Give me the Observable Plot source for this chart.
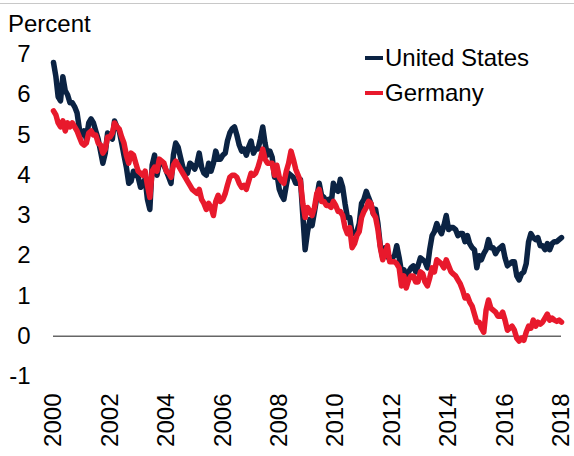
<!DOCTYPE html>
<html><head><meta charset="utf-8">
<script src="https://cdn.jsdelivr.net/npm/d3@7"></script>
<script src="https://cdn.jsdelivr.net/npm/@observablehq/plot@0.6"></script>
<style>
body{margin:0;background:#fff;font-family:Arial,"Liberation Sans",sans-serif;color:#000;}
#wrap{position:relative;width:574px;height:456px;overflow:hidden;}
#chart{position:absolute;left:0;top:0;}
#topline{position:absolute;left:0;top:3px;width:574px;height:1px;background:#c8c8c8;}
#unit{position:absolute;left:8px;top:10px;font-size:24px;line-height:28px;}
#legend{position:absolute;left:365px;top:40px;font-size:24px;}
.item{display:flex;align-items:center;height:35px;white-space:nowrap;}
.sw{width:18px;height:4px;margin-right:2px;}
</style></head>
<body>
<div id="wrap"><div id="chart"></div><div id="topline"></div><div id="unit">Percent</div><div id="legend"></div></div>
<script>
// Series names and colours
const seriesNames = ["United States", "Germany"];
const seriesColors = ["#0b2343", "#e8192c"];

// Monthly 10-year yields, Jan 2000 ... Dec 2017, plus Jan 2018 end point (percent)
const usYields = [
  6.8, 6.45, 5.95, 5.85, 6.45, 6.1, 6.0, 5.8, 5.8, 5.7, 5.55, 5.15,   // 2000
  5.0, 5.1, 4.9, 5.3, 5.4, 5.3, 5.1, 4.9, 4.6, 4.3, 4.55, 5.05,       // 2001
  5.0, 4.9, 5.35, 5.2, 5.1, 4.8, 4.5, 4.2, 3.8, 3.85, 4.1, 4.0,       // 2002
  3.95, 3.7, 3.8, 3.9, 3.4, 3.15, 4.25, 4.5, 4.0, 4.3, 4.3, 4.25,     // 2003
  4.1, 3.95, 3.8, 4.5, 4.8, 4.7, 4.45, 4.2, 4.1, 4.05, 4.3, 4.25,     // 2004
  4.15, 4.3, 4.55, 4.2, 4.05, 4.0, 4.3, 4.1, 4.3, 4.6, 4.4, 4.4,      // 2005
  4.5, 4.55, 4.85, 5.05, 5.15, 5.2, 5.0, 4.75, 4.6, 4.65, 4.5, 4.7,   // 2006
  4.85, 4.55, 4.65, 4.65, 4.9, 5.2, 4.8, 4.5, 4.6, 4.45, 3.95, 4.05,  // 2007
  3.65, 3.5, 3.4, 3.75, 4.05, 4.0, 3.95, 3.8, 3.8, 3.9, 3.0, 2.15,    // 2008
  2.6, 2.9, 2.75, 3.1, 3.45, 3.8, 3.5, 3.45, 3.3, 3.4, 3.25, 3.8,     // 2009
  3.65, 3.6, 3.9, 3.7, 3.3, 2.95, 2.95, 2.55, 2.55, 2.6, 2.8, 3.3,    // 2010
  3.4, 3.6, 3.45, 3.3, 3.05, 3.15, 2.8, 2.25, 1.95, 2.2, 2.0, 1.9,    // 2011
  1.95, 2.0, 2.25, 1.95, 1.6, 1.65, 1.5, 1.6, 1.7, 1.75, 1.6, 1.75,   // 2012
  1.95, 1.9, 1.85, 1.7, 2.15, 2.5, 2.6, 2.8, 2.65, 2.55, 2.75, 3.0,   // 2013
  2.65, 2.7, 2.7, 2.65, 2.5, 2.55, 2.55, 2.35, 2.5, 2.3, 2.2, 2.15,   // 2014
  1.7, 2.0, 1.9, 2.05, 2.15, 2.4, 2.2, 2.2, 2.05, 2.15, 2.2, 2.25,    // 2015
  1.95, 1.75, 1.8, 1.85, 1.85, 1.5, 1.4, 1.55, 1.6, 1.8, 2.35, 2.55,  // 2016
  2.45, 2.4, 2.45, 2.25, 2.25, 2.15, 2.3, 2.15, 2.3, 2.35, 2.35, 2.4, // 2017
  2.45                                                                // 2018
];
const deYields = [
  5.6, 5.5, 5.3, 5.2, 5.35, 5.1, 5.3, 5.2, 5.3, 5.2, 5.1, 4.95,       // 2000
  4.8, 4.75, 4.8, 5.05, 5.1, 5.0, 5.0, 4.8, 4.75, 4.55, 4.65, 4.95,   // 2001
  4.95, 5.05, 5.3, 5.2, 5.15, 4.95, 4.8, 4.5, 4.3, 4.55, 4.5, 4.3,    // 2002
  4.1, 4.05, 4.0, 4.1, 3.75, 3.45, 4.1, 4.2, 4.1, 4.4, 4.35, 4.3,     // 2003
  4.1, 4.05, 3.95, 4.25, 4.35, 4.25, 4.15, 4.05, 3.95, 3.85, 3.75, 3.65, // 2004
  3.6, 3.55, 3.65, 3.4, 3.3, 3.15, 3.3, 3.2, 3.0, 3.35, 3.5, 3.35,    // 2005
  3.4, 3.55, 3.75, 3.95, 4.0, 4.0, 3.95, 3.8, 3.7, 3.75, 3.65, 3.85,  // 2006
  4.05, 4.0, 4.05, 4.2, 4.4, 4.65, 4.4, 4.3, 4.3, 4.3, 4.0, 4.25,     // 2007
  3.95, 3.85, 3.8, 4.1, 4.3, 4.6, 4.4, 4.15, 4.0, 3.85, 3.3, 2.95,    // 2008
  3.2, 3.1, 3.0, 3.2, 3.55, 3.65, 3.35, 3.35, 3.25, 3.25, 3.2, 3.35,  // 2009
  3.25, 3.1, 3.1, 3.0, 2.7, 2.55, 2.7, 2.2, 2.3, 2.5, 2.6, 2.95,      // 2010
  3.1, 3.2, 3.35, 3.3, 3.05, 2.95, 2.65, 2.2, 1.9, 2.05, 2.25, 1.85,  // 2011
  1.85, 1.85, 1.8, 1.7, 1.25, 1.5, 1.2, 1.4, 1.5, 1.5, 1.35, 1.35,    // 2012
  1.6, 1.55, 1.35, 1.25, 1.45, 1.7, 1.6, 1.9, 1.85, 1.8, 1.7, 1.9,    // 2013
  1.75, 1.6, 1.55, 1.5, 1.4, 1.3, 1.15, 0.95, 1.0, 0.85, 0.75, 0.55,  // 2014
  0.35, 0.35, 0.2, 0.1, 0.65, 0.9, 0.7, 0.65, 0.6, 0.5, 0.5, 0.6,     // 2015
  0.4, 0.15, 0.2, 0.25, 0.15, -0.05, -0.12, -0.05, -0.1, 0.1, 0.25, 0.2, // 2016
  0.4, 0.25, 0.35, 0.3, 0.35, 0.45, 0.55, 0.4, 0.45, 0.4, 0.37, 0.4,  // 2017
  0.35                                                                // 2018
];

// Axis ticks
const yTicks = [-1, 0, 1, 2, 3, 4, 5, 6, 7];
const xTickYears = [2000, 2002, 2004, 2006, 2008, 2010, 2012, 2014, 2016, 2018];

const monthDate = i => new Date(Date.UTC(2000, i, 1));
const rows = [];
usYields.forEach((v, i) => rows.push({date: monthDate(i), value: v, series: seriesNames[0]}));
deYields.forEach((v, i) => rows.push({date: monthDate(i), value: v, series: seriesNames[1]}));

const chart = Plot.plot({
  width: 574,
  height: 456,
  marginLeft: 53,
  marginRight: 13,
  marginTop: 54,
  marginBottom: 80,
  style: {fontFamily: "Arial, 'Liberation Sans', sans-serif", fontSize: "24px", color: "#000", background: "transparent", overflow: "visible"},
  x: {type: "utc", domain: [new Date(Date.UTC(2000, 0, 1)), new Date(Date.UTC(2018, 0, 1))]},
  y: {domain: [-1, 7]},
  color: {domain: seriesNames, range: seriesColors},
  marks: [
    Plot.axisY({ticks: yTicks, tickSize: 0, tickPadding: 23, tickFormat: d => String(d), label: null, fontSize: 24}),
    Plot.axisX({ticks: xTickYears.map(y => new Date(Date.UTC(y, 0, 1))), tickSize: 0, tickPadding: 17, tickRotate: -90, tickFormat: d => String(d.getUTCFullYear()), label: null, fontSize: 24}),
    Plot.ruleY([0], {stroke: "#666", strokeWidth: 1.5}),
    Plot.line(rows, {x: "date", y: "value", z: "series", stroke: "series", strokeWidth: 5.5, strokeLinejoin: "round", strokeLinecap: "round"})
  ]
});
document.getElementById("chart").appendChild(chart);

const legend = document.getElementById("legend");
seriesNames.forEach((name, i) => {
  const item = document.createElement("div");
  item.className = "item";
  const sw = document.createElement("span");
  sw.className = "sw";
  sw.style.background = seriesColors[i];
  item.appendChild(sw);
  item.appendChild(document.createTextNode(name));
  legend.appendChild(item);
});
</script>
</body></html>
